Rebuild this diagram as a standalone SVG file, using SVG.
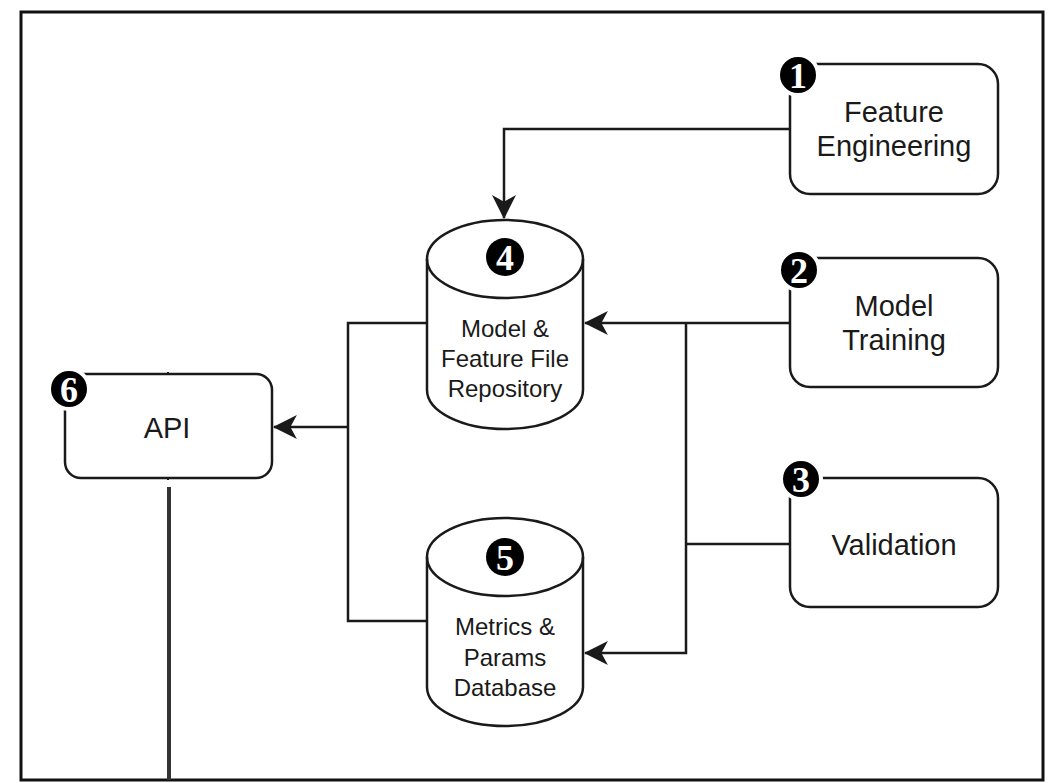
<svg xmlns="http://www.w3.org/2000/svg" width="1052" height="783" viewBox="0 0 1052 783">
<defs>
<style>
.box{fill:#fff;stroke:#1a1a1a;stroke-width:2.5}
.lbl{font-family:"Liberation Sans",Arial,sans-serif;font-size:29px;fill:#1a1a1a;text-anchor:middle}
.clbl{font-family:"Liberation Sans",Arial,sans-serif;font-size:24px;fill:#1a1a1a;text-anchor:middle}
.badge{fill:#000;stroke:#fff;stroke-width:4}
.bnum{font-family:"Liberation Serif","Times New Roman",serif;font-size:36px;font-weight:bold;fill:#fff;text-anchor:middle}
.conn{fill:none;stroke:#1a1a1a;stroke-width:2.5}
</style>
<marker id="arr" markerUnits="userSpaceOnUse" markerWidth="24" markerHeight="24" viewBox="0 0 22 22" refX="21" refY="11" orient="auto">
<path d="M0,0 L22,11 L0,22 L6,11 Z" fill="#1a1a1a"/>
</marker>
</defs>
<rect width="1052" height="783" fill="#fff"/>
<rect x="21" y="12" width="1022" height="768" fill="none" stroke="#111" stroke-width="3"/>

<g id="connectors">
<path class="conn" d="M790,129 L504,129 L504,218" marker-end="url(#arr)"/>
<path class="conn" d="M790,323 L585,323" marker-end="url(#arr)"/>
<path class="conn" d="M686,323 L686,653 L585,653" marker-end="url(#arr)"/>
<path class="conn" d="M790,544 L686,544"/>
<path class="conn" d="M427,323 L348,323 L348,621 L427,621"/>
<path class="conn" d="M348,427 L274,427" marker-end="url(#arr)"/>
<path fill="none" stroke="#333" stroke-width="4" d="M169,487 L169,780"/>
</g>

<g id="node-feature-engineering">
<rect class="box" x="790" y="64" width="208" height="130" rx="20"/>
<text class="lbl" x="894" y="122">Feature</text>
<text class="lbl" x="894" y="156">Engineering</text>
<circle class="badge" cx="798" cy="75" r="20"/>
<text class="bnum" x="798" y="88">1</text>
</g>

<g id="node-model-training">
<rect class="box" x="790" y="258" width="208" height="129" rx="20"/>
<text class="lbl" x="894" y="316">Model</text>
<text class="lbl" x="894" y="350">Training</text>
<circle class="badge" cx="799" cy="270" r="20"/>
<text class="bnum" x="799" y="283">2</text>
</g>

<g id="node-validation">
<rect class="box" x="790" y="478" width="208" height="129" rx="20"/>
<text class="lbl" x="894" y="555">Validation</text>
<circle class="badge" cx="801" cy="479" r="20"/>
<text class="bnum" x="801" y="492">3</text>
</g>

<g id="node-repository">
<path class="box" d="M427,259 A78,39 0 0,1 583,259 L583,390 A78,39 0 0,1 427,390 Z"/>
<path class="conn" d="M427,259 A78,39 0 0,0 583,259"/>
<circle cx="505" cy="257" r="19" fill="#000"/>
<text class="bnum" x="505" y="270">4</text>
<text class="clbl" x="505" y="337">Model &amp;</text>
<text class="clbl" x="505" y="367">Feature File</text>
<text class="clbl" x="505" y="397">Repository</text>
</g>

<g id="node-database">
<path class="box" d="M427,557 A78,39 0 0,1 583,557 L583,687 A78,39 0 0,1 427,687 Z"/>
<path class="conn" d="M427,557 A78,39 0 0,0 583,557"/>
<circle cx="505" cy="557" r="19" fill="#000"/>
<text class="bnum" x="505" y="570">5</text>
<text class="clbl" x="505" y="635">Metrics &amp;</text>
<text class="clbl" x="505" y="666">Params</text>
<text class="clbl" x="505" y="696">Database</text>
</g>

<g id="node-api">
<rect class="box" x="65" y="374" width="207" height="104" rx="16"/>
<rect x="167" y="372" width="2" height="3" fill="#1a1a1a"/>
<rect x="167" y="477" width="2" height="3" fill="#1a1a1a"/>
<text class="lbl" x="167" y="438">API</text>
<circle class="badge" cx="69" cy="389" r="20"/>
<text class="bnum" x="69" y="402">6</text>
</g>
</svg>
